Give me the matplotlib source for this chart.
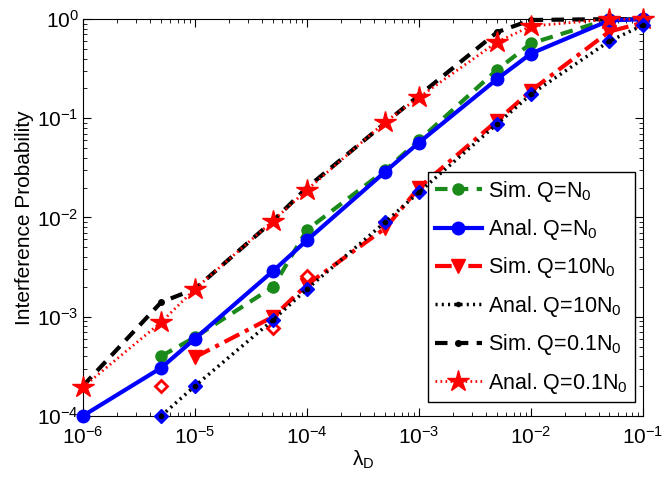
import matplotlib
matplotlib.use("Agg")
import matplotlib.pyplot as plt
from matplotlib.ticker import LogLocator, NullFormatter

plt.rcParams['font.family'] = ['Liberation Sans', 'DejaVu Sans']
plt.rcParams['mathtext.fontset'] = 'custom'
plt.rcParams['mathtext.rm'] = 'Liberation Sans'
plt.rcParams['mathtext.it'] = 'Liberation Sans:italic'

lam = [1e-6, 5e-6, 1e-5, 5e-5, 1e-4, 5e-4, 1e-3, 5e-3, 1e-2, 5e-2, 1e-1]

sim_q1 = [None, 4e-4, 6.2e-4, 2.0e-3, 7.5e-3, 0.030, 0.060, 0.31, 0.57, 1.0, 1.0]
anal_q1 = [1e-4, 3.05e-4, 6.0e-4, 2.9e-3, 5.9e-3, 0.029, 0.057, 0.25, 0.45, 0.97, 1.0]
sim_q10 = [None, None, 3.9e-4, 1.0e-3, 2.1e-3, 7.8e-3, 0.020, 0.095, 0.19, 0.75, 0.92]
anal_q10 = [None, 1e-4, 2.0e-4, 9.3e-4, 1.9e-3, 0.009, 0.018, 0.088, 0.175, 0.6, 0.87]
sim_q01 = [2e-4, 1.4e-3, 1.9e-3, 9.3e-3, 0.020, 0.090, 0.17, 0.74, 0.98, 1.0, 1.0]
anal_q01 = [1.95e-4, 8.8e-4, 1.9e-3, 9.3e-3, 0.019, 0.092, 0.163, 0.59, 0.85, 1.0, 1.0]

# extra unlabelled markers
diam_blue_x = [5e-6, 1e-5, 5e-5, 1e-4, 5e-4, 1e-3, 5e-3, 1e-2, 5e-2, 1e-1]
diam_blue_y = [1e-4, 2.0e-4, 9.3e-4, 1.9e-3, 0.009, 0.018, 0.088, 0.175, 0.6, 0.87]
diam_red_x = [5e-6, 5e-5, 1e-4]
diam_red_y = [2e-4, 7.7e-4, 2.6e-3]

def pts(xs, ys):
    px, py = [], []
    for a, b in zip(xs, ys):
        if b is not None:
            px.append(a); py.append(b)
    return px, py

fig = plt.figure(figsize=(6.63, 4.78), dpi=100)
ax = fig.add_axes([0.125, 0.130, 0.845, 0.830])

x, y = pts(lam, sim_q1)
ax.plot(x, y, color='#1a8a1a', ls=(0, (3, 2)), lw=3, marker='o', ms=8,
        label='Sim. Q=N$_0$', clip_on=False, zorder=3)
x, y = pts(lam, anal_q1)
ax.plot(x, y, color='#0000ff', ls='-', lw=3, marker='o', ms=9,
        label='Anal. Q=N$_0$', clip_on=False, zorder=4)
x, y = pts(lam, sim_q10)
ax.plot(x, y, color='red', ls=(0, (4, 1.5, 1, 1.5)), lw=3, marker='v', ms=10,
        label='Sim. Q=10N$_0$', clip_on=False, zorder=3)
ax.plot(diam_red_x, diam_red_y, ls='none', marker='D', ms=6, mfc='white',
        mec='red', mew=2, clip_on=False, zorder=4)
ax.plot(diam_blue_x, diam_blue_y, ls='none', marker='D', ms=7, color='#0000ff',
        clip_on=False, zorder=5)
x, y = pts(lam, anal_q10)
ax.plot(x, y, color='black', ls=(0, (0.6, 1.2)), lw=2.5, marker='.', ms=6,
        label='Anal. Q=10N$_0$', clip_on=False, zorder=6)
x, y = pts(lam, sim_q01)
ax.plot(x, y, color='black', ls=(0, (3, 2)), lw=3, marker='.', ms=8,
        label='Sim. Q=0.1N$_0$', clip_on=False, zorder=3)
x, y = pts(lam, anal_q01)
ax.plot(x, y, color='red', ls=(0, (0.6, 1.2)), lw=2, marker='*', ms=16,
        label='Anal. Q=0.1N$_0$', clip_on=False, zorder=4)

ax.set_xscale('log')
ax.set_yscale('log')
ax.set_xlim(1e-6, 1e-1)
ax.set_ylim(1e-4, 1e0)
ax.xaxis.set_major_locator(LogLocator(base=10, numticks=10))
ax.yaxis.set_major_locator(LogLocator(base=10, numticks=10))
ax.xaxis.set_minor_locator(LogLocator(base=10, subs=range(2, 10), numticks=20))
ax.yaxis.set_minor_locator(LogLocator(base=10, subs=range(2, 10), numticks=20))
ax.xaxis.set_minor_formatter(NullFormatter())
ax.yaxis.set_minor_formatter(NullFormatter())
ax.tick_params(which='both', direction='in', top=True, right=True, labelsize=15)
ax.tick_params(which='major', length=6)
ax.tick_params(which='minor', length=3)
ax.tick_params(axis='x', pad=7)
ax.tick_params(axis='y', pad=3)

ax.set_xlabel('λ$_\\mathrm{D}$', fontsize=15, labelpad=1)
ax.set_ylabel('Interference Probability', fontsize=15, labelpad=2)

leg = ax.legend(loc='lower right', bbox_to_anchor=(0.985, 0.035), fontsize=15.5,
                fancybox=False, edgecolor='black', framealpha=1,
                handlelength=2.2, handletextpad=0.3, labelspacing=0.62,
                borderpad=0.3, borderaxespad=0.0)
leg.get_frame().set_linewidth(1)

fig.savefig('out.png', dpi=100)
